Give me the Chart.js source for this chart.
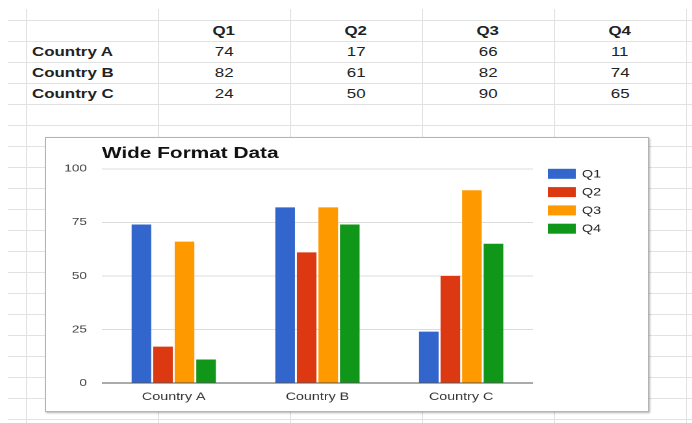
<!DOCTYPE html>
<html>
<head>
<meta charset="utf-8">
<script src="https://cdn.jsdelivr.net/npm/chart.js@4.4.0/dist/chart.umd.min.js"></script>
<style>
  html, body { margin: 0; padding: 0; background: #fff; }
  body { width: 692px; height: 423px; position: relative; overflow: hidden; font-family: "Liberation Sans", Arial, sans-serif; }
  .hl { position: absolute; left: 8px; right: 0; height: 1px; background: #e2e2e2; }
  .vl { position: absolute; top: 9px; bottom: 0; width: 1px; background: #e2e2e2; }
  .cell { position: absolute; height: 21px; line-height: 21px; font-size: 13px; color: #222; text-align: center; white-space: nowrap; }
  .cell span { display: inline-block; transform: scaleX(1.3); }
  .lbl { text-align: left; font-weight: bold; }
  .lbl span { transform-origin: 0 50%; }
  .hdr { font-weight: bold; }
  #box { position: absolute; left: 45px; top: 137px; width: 604px; height: 275px; box-sizing: border-box; border: 1px solid #b4b4b4; box-shadow: 1px 1px 2px rgba(0,0,0,0.3); background: #fff; }
  #wrap { position: absolute; left: 46px; top: 138px; width: 463px; height: 273px; transform: scaleX(1.3); transform-origin: 0 0; }
</style>
</head>
<body>
<div id="sheet"></div>
<div id="box"></div>
<div id="wrap"><canvas id="myChart"></canvas></div>
<script>
// data
var countries = ['Country A', 'Country B', 'Country C'];
var quarters = ['Q1', 'Q2', 'Q3', 'Q4'];
var q1 = [74, 82, 24];
var q2 = [17, 61, 50];
var q3 = [66, 82, 90];
var q4 = [11, 74, 65];
var colors = ['#3366cc', '#dc3912', '#ff9900', '#109618'];
var series = [q1, q2, q3, q4];

// spreadsheet grid behind the chart
var sheet = document.getElementById('sheet');
for (var y = 20; y < 423; y += 21) {
    var h = document.createElement('div');
    h.className = 'hl';
    h.style.top = y + 'px';
    sheet.appendChild(h);
}
for (var x = 26; x < 692; x += 132) {
    var v = document.createElement('div');
    v.className = 'vl';
    v.style.left = x + 'px';
    sheet.appendChild(v);
}

function addCell(text, left, top, width, cls) {
    var d = document.createElement('div');
    d.className = 'cell ' + cls;
    d.style.left = left + 'px';
    d.style.top = top + 'px';
    d.style.width = width + 'px';
    var s = document.createElement('span');
    s.textContent = text;
    d.appendChild(s);
    sheet.appendChild(d);
}

for (var j = 0; j < quarters.length; j++) {
    addCell(quarters[j], 158 + 132 * j, 20, 132, 'hdr');
}
for (var i = 0; i < countries.length; i++) {
    addCell(countries[i], 32, 41 + 21 * i, 120, 'lbl');
    for (var j = 0; j < quarters.length; j++) {
        addCell(series[j][i], 158 + 132 * j, 41 + 21 * i, 132, '');
    }
}

// legend drawn next to the plot area, like the sheets chart
var sideLegend = {
    id: 'sideLegend',
    afterDraw: function (chart) {
        var ctx = chart.ctx;
        var area = chart.chartArea;
        ctx.save();
        ctx.font = '11px "Liberation Sans", Arial, sans-serif';
        ctx.textBaseline = 'middle';
        chart.data.datasets.forEach(function (ds, k) {
            var top = area.top + k * 18.3;
            ctx.fillStyle = ds.backgroundColor;
            ctx.fillRect(area.right + 11.4, top, 21.5, 10);
            ctx.fillStyle = '#222';
            ctx.fillText(ds.label, area.right + 37.7, top + 5.5);
        });
        ctx.restore();
    }
};

var datasets = [];
for (var j = 0; j < quarters.length; j++) {
    datasets.push({
        label: quarters[j],
        data: series[j],
        backgroundColor: colors[j],
        borderWidth: 0,
        categoryPercentage: 0.6,
        barPercentage: 0.91
    });
}

var ctx = document.getElementById('myChart').getContext('2d');
var myBarChart = new Chart(ctx, {
    type: 'bar',
    data: {
        labels: countries,
        datasets: datasets
    },
    plugins: [sideLegend],
    options: {
        responsive: true,
        maintainAspectRatio: false,
        animation: false,
        devicePixelRatio: 2,
        layout: {
            padding: { left: 0, right: 88.4, top: 0, bottom: 0 }
        },
        plugins: {
            legend: { display: false },
            tooltip: { enabled: false },
            title: {
                display: true,
                text: 'Wide Format Data',
                align: 'start',
                fullSize: false,
                color: '#111',
                font: { family: '"Liberation Sans", Arial, sans-serif', size: 16, weight: 'bold' },
                padding: { top: 6.2, bottom: 5.4 }
            }
        },
        scales: {
            x: {
                grid: { display: false, drawTicks: false },
                border: { display: false },
                ticks: {
                    color: '#333',
                    padding: 7.4,
                    font: { family: '"Liberation Sans", Arial, sans-serif', size: 11 }
                }
            },
            y: {
                min: 0,
                max: 100,
                afterFit: function (scale) { scale.width = 43; },
                border: { display: false },
                grid: {
                    drawTicks: false,
                    color: function (c) { return c.tick && c.tick.value === 0 ? '#555' : '#dcdcdc'; }
                },
                ticks: {
                    stepSize: 25,
                    color: '#444',
                    padding: 11.5,
                    font: { family: '"Liberation Sans", Arial, sans-serif', size: 10.5 }
                }
            }
        }
    }
});
</script>
</body>
</html>
